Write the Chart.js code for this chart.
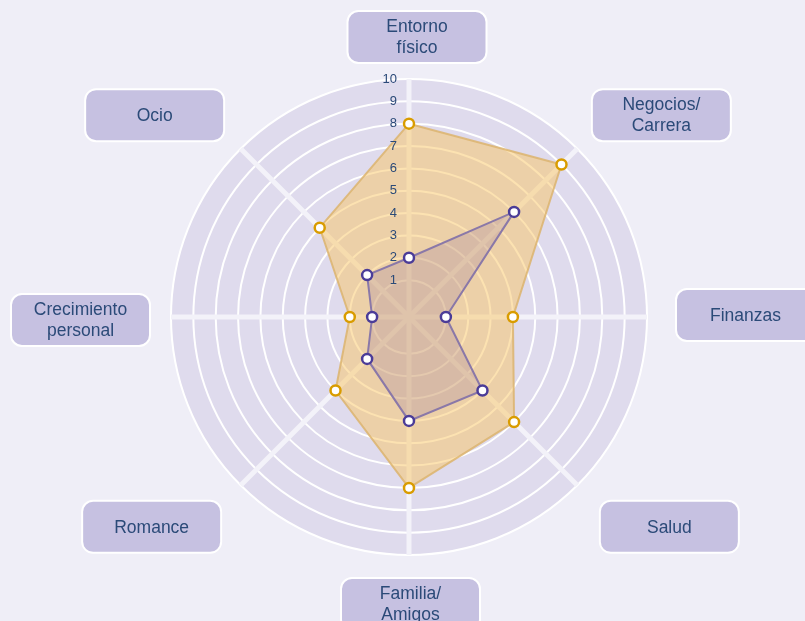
<!DOCTYPE html>
<html>
<head>
<meta charset="utf-8">
<script src="https://cdn.jsdelivr.net/npm/chart.js@4"></script>
<style>
  html, body { margin: 0; padding: 0; background: #efeef7; }
  canvas { display: block; }
</style>
</head>
<body>
<canvas id="wheelChart" width="805" height="621"></canvas>
<script>
const areas = [['Entorno', 'físico'], ['Negocios/', 'Carrera'], 'Finanzas', 'Salud',
               ['Familia/', 'Amigos'], 'Romance', ['Crecimiento', 'personal'], 'Ocio'];
const ideal = [8, 9, 4, 6, 7, 4, 2, 5];
const actual = [2, 6, 1, 4, 4, 2, 1, 2];
const tickValues = [1, 2, 3, 4, 5, 6, 7, 8, 9, 10];

// small hand tweaks so the boxes sit where the original put them
const boxNudge = [[8, 6], [-1, 8], [7, -2], [7, 0], [1.5, 1], [-4, 0], [1, 3], [-1, 8]];

const textBlue = '#2b4a78';

// label boxes + tick numbers drawn by hand
const boxLabels = {
    id: 'boxLabels',
    afterDraw(chart) {
        const scale = chart.scales.r;
        const ctx = chart.ctx;
        const boxW = 139, boxH = 52, dist = 260;
        ctx.save();
        ctx.font = '17.5px "Liberation Sans", Arial, sans-serif';
        ctx.textAlign = 'center';
        ctx.textBaseline = 'middle';
        areas.forEach(function(label, i) {
            const p = scale.getPointPosition(i, dist);
            const dx = p.x - scale.xCenter;
            const dy = p.y - scale.yCenter;
            let x = p.x - boxW / 2;
            let y = p.y - boxH / 2;
            if (dx > 5) x = p.x;
            if (dx < -5) x = p.x - boxW;
            if (dy < -5) y = p.y - boxH;
            if (dy > 5) y = p.y;
            x += boxNudge[i][0];
            y += boxNudge[i][1];
            ctx.beginPath();
            ctx.roundRect(x, y, boxW, boxH, 11);
            ctx.fillStyle = '#c6c1e1';
            ctx.fill();
            ctx.lineWidth = 2;
            ctx.strokeStyle = '#ffffff';
            ctx.stroke();
            ctx.fillStyle = textBlue;
            const lines = Array.isArray(label) ? label : [label];
            lines.forEach(function(line, k) {
                const ly = y + boxH / 2 + 1 + (k - (lines.length - 1) / 2) * 21;
                ctx.fillText(line, x + boxW / 2, ly);
            });
        });

        ctx.font = '13px "Liberation Sans", Arial, sans-serif';
        ctx.textAlign = 'right';
        ctx.fillStyle = textBlue;
        tickValues.forEach(function(v) {
            const r = scale.getDistanceFromCenterForValue(v);
            ctx.fillText(String(v), scale.xCenter - 12, scale.yCenter - r);
        });
        ctx.restore();
    }
};

const ctx = document.getElementById('wheelChart').getContext('2d');

const wheelChart = new Chart(ctx, {
    type: 'radar',
    data: {
        labels: areas,
        datasets: [{
            label: 'Actual',
            data: actual,
            backgroundColor: 'rgba(120, 90, 160, 0.18)',
            borderColor: '#8a78a8',
            borderWidth: 2,
            pointRadius: 5,
            pointBorderWidth: 2.5,
            pointBackgroundColor: '#ffffff',
            pointBorderColor: '#4b3c98'
        }, {
            label: 'Ideal',
            data: ideal,
            backgroundColor: 'rgba(249, 197, 100, 0.5)',
            borderColor: 'rgba(220, 180, 110, 0.85)',
            borderWidth: 2,
            pointRadius: 5,
            pointBorderWidth: 2.5,
            pointBackgroundColor: '#ffffff',
            pointBorderColor: '#d99c00'
        }]
    },
    options: {
        responsive: false,
        animation: false,
        layout: {
            padding: { top: 79, bottom: 65, left: 170, right: 157 }
        },
        scales: {
            r: {
                min: -0.65,
                max: 10,
                backgroundColor: '#dfdbed',
                ticks: {
                    display: false,
                    stepSize: 1,
                    showLabelBackdrop: false
                },
                grid: {
                    circular: true,
                    lineWidth: 2,
                    color: function(c) {
                        return c.tick && c.tick.value >= 1 ? '#ffffff' : 'rgba(0,0,0,0)';
                    }
                },
                angleLines: {
                    color: '#f3f2f9',
                    lineWidth: 5
                },
                pointLabels: {
                    display: false
                }
            }
        },
        plugins: {
            legend: { display: false },
            tooltip: { enabled: false }
        }
    },
    plugins: [boxLabels]
});
</script>
</body>
</html>
